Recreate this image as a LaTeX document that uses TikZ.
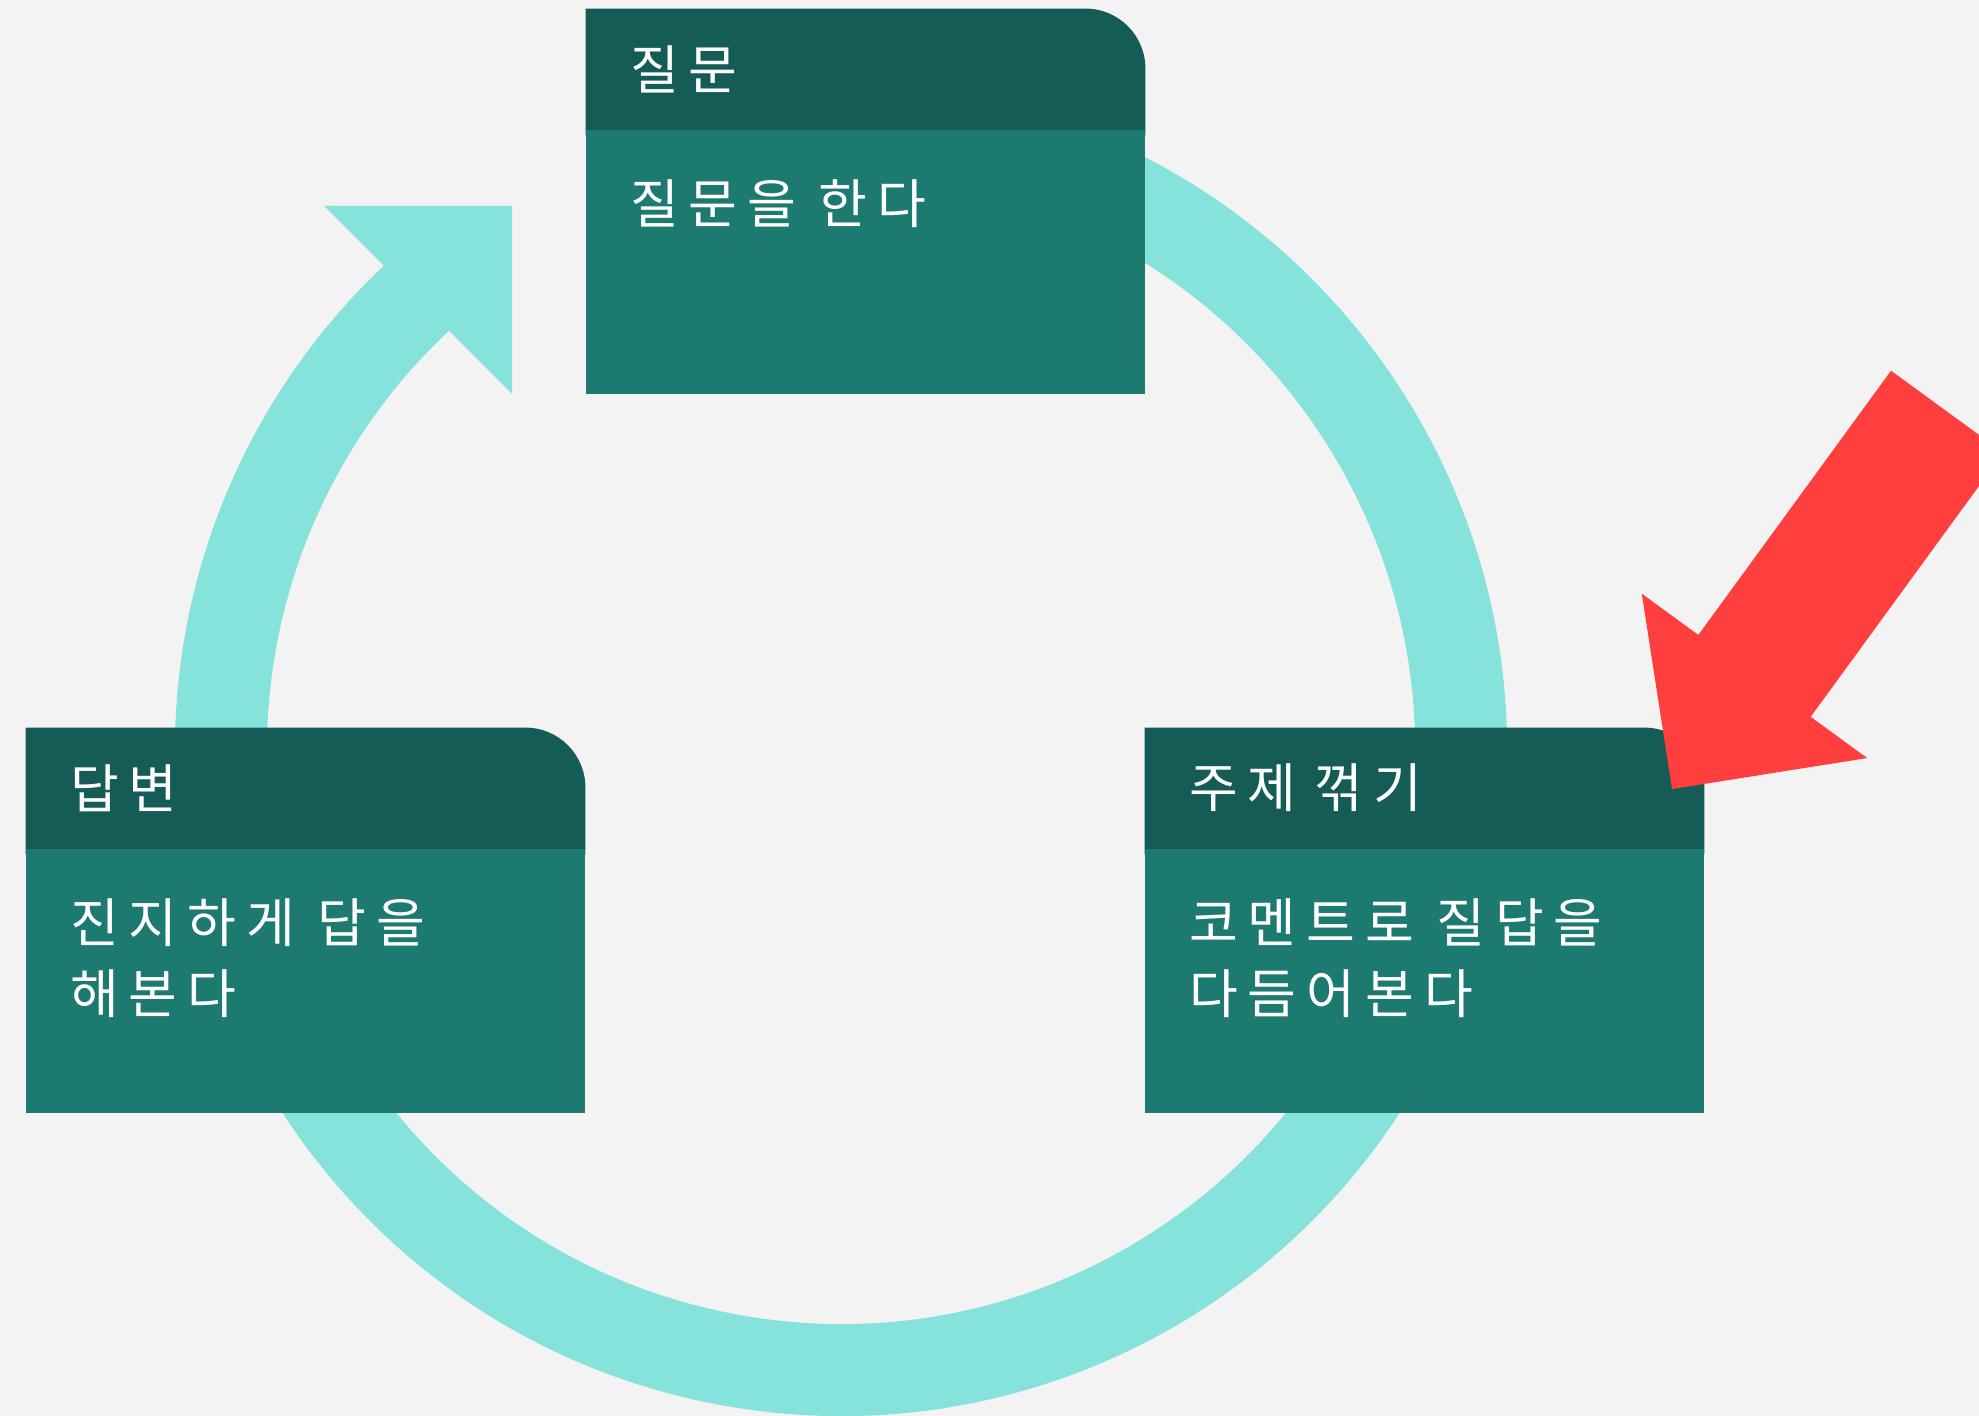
\documentclass[tikz,border=0pt]{standalone}
\usepackage{fontspec}
\newfontfamily\krfont[LetterSpace=19]{Noto Sans CJK KR}
\usetikzlibrary{positioning, calc}

\definecolor{paper}{HTML}{F3F3F3}
\definecolor{headcol}{HTML}{155C56}
\definecolor{bodycol}{HTML}{1C7A70}
\definecolor{ringcol}{HTML}{86E3DB}
\definecolor{hotcol}{HTML}{FF3E3E}

\pgfdeclarelayer{back}
\pgfsetlayers{back,main}

\tikzset{
  head/.style={rectangle, minimum width=279.5pt, minimum height=60pt, inner xsep=22pt, inner ysep=0pt,
    text width=235.5pt, align=left, text=white, font=\krfont\fontsize{26.5pt}{35.5pt}\selectfont},
  panel/.style={rectangle, fill=bodycol, minimum width=279.5pt, minimum height=132pt, inner sep=0pt},
  note/.style={inner sep=0pt, align=left, text=white, font=\krfont\fontsize{26.5pt}{35.5pt}\selectfont},
  ring/.style={draw=ringcol, line width=46pt},
}

\begin{document}
\begin{tikzpicture}[x=0.5pt, y=0.5pt, node distance=0pt]
\useasboundingbox (0,0) rectangle (1979,-1416);
\clip (0,0) rectangle (1979,-1416);

% question
\node[head] (q_h) at (865.5,-69) {질문};
\node[panel, below=of q_h] (q_p) {};
\node[note, below right=25pt and 22pt of q_p.north west] (q_n) {질문을 한다};
% answer
\node[head] (a_h) at (305.5,-788) {답변};
\node[panel, below=of a_h] (a_p) {};
\node[note, below right=25pt and 22pt of a_p.north west] (a_n) {진지하게 답을\\해본다};
% topic
\node[head] (t_h) at (1424.5,-788) {주제 꺾기};
\node[panel, below=of t_h] (t_p) {};
\node[note, below right=25pt and 22pt of t_p.north west] (t_n) {코멘트로 질답을\\다듬어본다};

\begin{pgfonlayer}{back}
  \fill[paper] (0,0) rectangle (1979,-1416);
  \coordinate (ctr) at (841,-750);
  \coordinate (ar_mid) at (418,-300);
  \draw[ring] ($(ctr)+(80:620)$) arc[start angle=80, end angle=-227.5, radius=620];
  \fill[ringcol] ($(ar_mid)+(135:133)$) -- ($(ar_mid)+(45:133)$) -- ($(ar_mid)+(-45:133)$) -- cycle;
  \foreach \n in {q,a,t}
    \fill[headcol] ([yshift=-3pt]\n_h.south west) -- (\n_h.north west) -- ([xshift=-30pt]\n_h.north east)
      arc[start angle=90, end angle=0, radius=30pt] -- ([yshift=-3pt]\n_h.south east) -- cycle;
\end{pgfonlayer}

% pointer
\coordinate (r_tip) at (1672,-789);
\fill[hotcol] ($(r_tip)+(53.9:467)+(143.9:69.5)$) -- ($(r_tip)+(53.9:140)+(143.9:69.5)$)
  -- ($(r_tip)+(53.9:140)+(143.9:139.5)$) -- (r_tip) -- ($(r_tip)+(53.9:140)+(-36.1:139.5)$)
  -- ($(r_tip)+(53.9:140)+(-36.1:69.5)$) -- ($(r_tip)+(53.9:467)+(-36.1:69.5)$) -- cycle;
\end{tikzpicture}
\end{document}
